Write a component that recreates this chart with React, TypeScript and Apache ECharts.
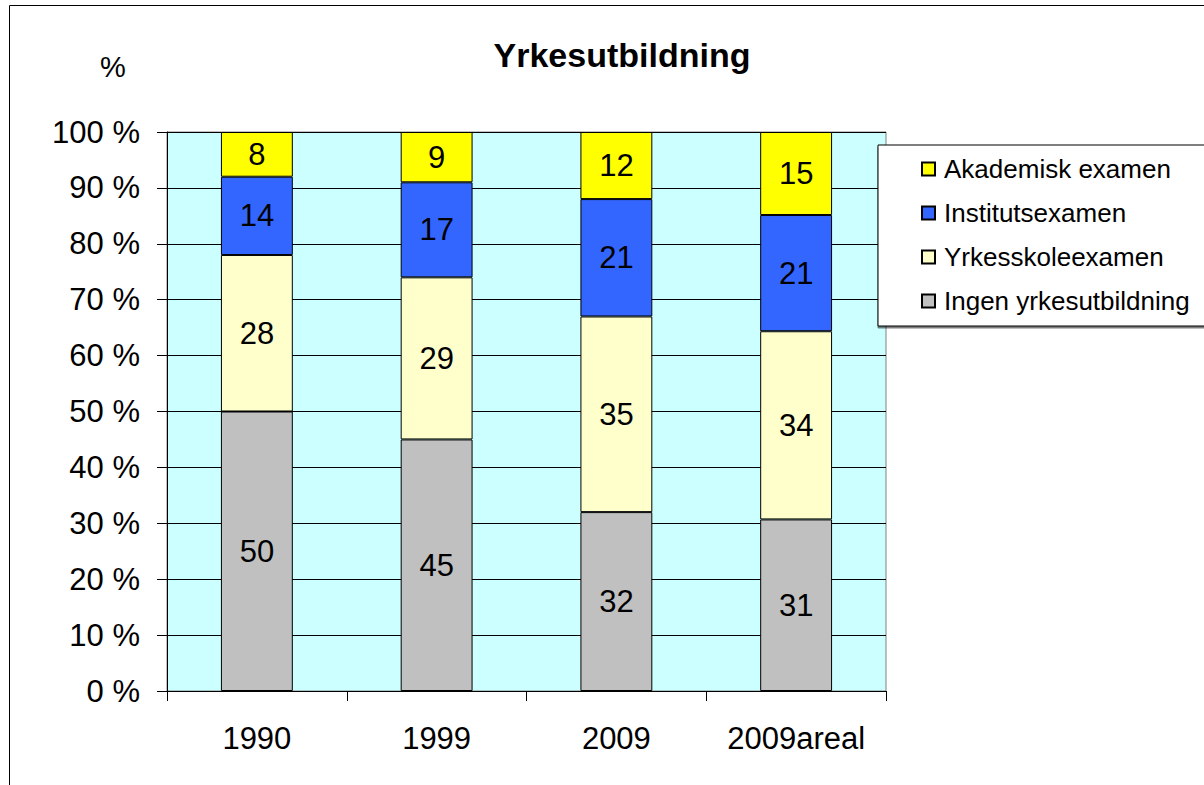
import React, { useEffect, useRef } from "react";
import * as echarts from "echarts";

const categories = ["1990", "1999", "2009", "2009areal"];
const seriesNames = [
  "Ingen yrkesutbildning",
  "Yrkesskoleexamen",
  "Institutsexamen",
  "Akademisk examen",
];
const ingen = [50, 45, 32, 31];
const yrkesskole = [28, 29, 35, 34];
const institut = [14, 17, 21, 21];
const akademisk = [8, 9, 12, 15];
const colors = ["#C0C0C0", "#FFFFCC", "#3366FF", "#FFFF00"];
const yTicks = [0, 10, 20, 30, 40, 50, 60, 70, 80, 90, 100];

const FONT = "'Liberation Sans', Arial, sans-serif";

export default function App() {
  const ref = useRef<HTMLDivElement>(null);
  useEffect(() => {
    if (!ref.current) return;
    const chart = echarts.init(ref.current, undefined, { renderer: "svg" });
    const raw = [ingen, yrkesskole, institut, akademisk];
    const totals = categories.map((_, i) =>
      raw.reduce((s, arr) => s + arr[i], 0)
    );
    const series = raw.map((arr, si) => ({
      name: seriesNames[si],
      type: "bar",
      stack: "total",
      barWidth: "40%",
      data: arr.map((v, i) => ({ value: (v / totals[i]) * 100, raw: v })),
      itemStyle: { color: colors[si], borderColor: "#000", borderWidth: 1 },
      label: {
        show: true,
        position: "inside",
        color: "#000",
        fontFamily: FONT,
        fontSize: 31,
        formatter: (p: any) => String(p.data.raw),
      },
    }));
    chart.setOption({
      animation: false,
      backgroundColor: "#fff",
      textStyle: { fontFamily: FONT },
      graphic: [
        {
          type: "rect",
          shape: { x: 9.5, y: 5.5, width: 1300, height: 900 },
          style: { fill: "none", stroke: "#000", lineWidth: 1 },
          z: 100,
        },
        {
          type: "text",
          x: 622,
          y: 55,
          style: {
            text: "Yrkesutbildning",
            fontFamily: FONT,
            fontSize: 34,
            fontWeight: "bold",
            fill: "#000",
            textAlign: "center",
            textVerticalAlign: "middle",
          },
        },
        {
          type: "text",
          x: 113,
          y: 67,
          style: {
            text: "%",
            fontFamily: FONT,
            fontSize: 29,
            fill: "#000",
            textAlign: "center",
            textVerticalAlign: "middle",
          },
        },
      ],
      legend: {
        orient: "vertical",
        left: 878,
        top: 145,
        data: [...seriesNames].reverse(),
        itemWidth: 13,
        itemHeight: 13,
        itemGap: 18,
        padding: [11, 90, 12, 43],
        borderColor: "#000",
        borderWidth: 1,
        backgroundColor: "#fff",
        shadowColor: "rgba(0,0,0,0.5)",
        shadowOffsetY: 2,
        shadowOffsetX: 0,
        shadowBlur: 0,
        textStyle: { fontFamily: FONT, fontSize: 26, color: "#000", padding: [0, 0, 0, 4] },
        icon: "rect",
      },
      grid: {
        left: 167,
        right: 318,
        top: 132,
        bottom: 94,
        show: true,
        backgroundColor: "#CCFFFF",
        borderColor: "#808080",
        borderWidth: 1,
      },
      xAxis: {
        type: "category",
        data: categories,
        axisLine: { lineStyle: { color: "#000" } },
        axisTick: { show: true, length: 10, interval: 0, lineStyle: { color: "#000" } },
        axisLabel: { fontFamily: FONT, fontSize: 31, color: "#000", margin: 32, interval: 0 },
      },
      yAxis: {
        type: "value",
        min: yTicks[0],
        max: yTicks[yTicks.length - 1],
        interval: 10,
        axisLine: { show: true, lineStyle: { color: "#000" } },
        axisTick: { show: true, length: 10, lineStyle: { color: "#000" } },
        axisLabel: {
          fontFamily: FONT,
          fontSize: 31,
          color: "#000",
          margin: 27,
          formatter: "{value} %",
        },
        splitLine: { show: true, lineStyle: { color: "#000", width: 1 } },
      },
      series,
    });
    return () => chart.dispose();
  }, []);
  return (
    <div
      ref={ref}
      style={{ position: "fixed", left: 0, top: 0, width: 1204, height: 785 }}
    />
  );
}
